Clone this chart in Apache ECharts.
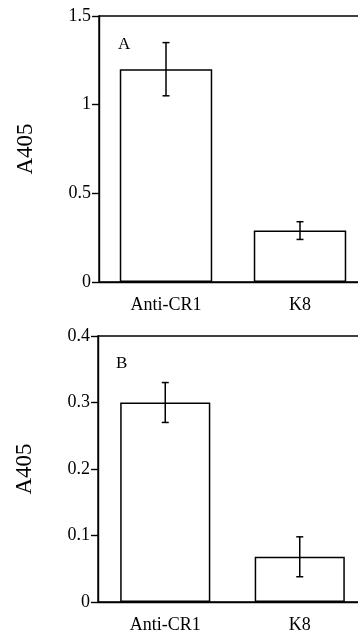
<!DOCTYPE html>
<html><head><meta charset="utf-8">
<script src="https://cdn.jsdelivr.net/npm/echarts@6/dist/echarts.min.js"></script>
<style>html,body{margin:0;padding:0;background:#fff}#c{width:358px;height:631px}</style>
</head><body><div id="c"></div>
<script>
const categories = ['Anti-CR1', 'K8'];
const meanA = [1.2, 0.29];
const errA = [0.15, 0.05];
const meanB = [0.3, 0.068];
const errB = [0.03, 0.03];
const panelLabels = ['A', 'B'];
const yNames = ['A405', 'A405'];

const FONT = 'Liberation Serif';
const lineStyle = {color: '#000', width: 1.4};

function errSeries(idx, mean, err) {
  return {
    type: 'custom', xAxisIndex: idx, yAxisIndex: idx, z: 5,
    data: mean.map((m, i) => [i, m - err[i], m + err[i]]),
    renderItem: function (params, api) {
      const lo = api.coord([api.value(0), api.value(1)]);
      const hi = api.coord([api.value(0), api.value(2)]);
      const hw = 3.5;
      const st = {stroke: '#000', lineWidth: 1.5, fill: null};
      return {type: 'group', children: [
        {type: 'line', shape: {x1: lo[0], y1: lo[1], x2: hi[0], y2: hi[1]}, style: st},
        {type: 'line', shape: {x1: lo[0] - hw, y1: lo[1], x2: lo[0] + hw, y2: lo[1]}, style: st},
        {type: 'line', shape: {x1: hi[0] - hw, y1: hi[1], x2: hi[0] + hw, y2: hi[1]}, style: st}
      ]};
    }
  };
}

function xAx(idx) {
  return {
    type: 'category', gridIndex: idx, data: categories,
    axisLine: {lineStyle: lineStyle},
    axisTick: {alignWithLabel: true, length: 6, lineStyle: lineStyle},
    axisLabel: {color: '#000', fontFamily: FONT, fontSize: 18, margin: 14}
  };
}
function yAx(idx, max, interval) {
  return {
    type: 'value', gridIndex: idx, min: 0, max: max, interval: interval,
    splitLine: {show: false},
    axisLine: {show: true, lineStyle: lineStyle},
    axisTick: {show: true, length: 7, lineStyle: lineStyle},
    axisLabel: {color: '#000', fontFamily: FONT, fontSize: 18, margin: 8},
    name: yNames[idx], nameLocation: 'middle', nameRotate: 90, nameGap: 62,
    nameTextStyle: {color: '#000', fontFamily: FONT, fontSize: 23}
  };
}

const chart = echarts.init(document.getElementById('c'));
chart.setOption({
  backgroundColor: '#fff',
  animation: false,
  grid: [
    {left: 99, top: 16, width: 268, height: 266, outerBoundsMode: 'none', containLabel: false, show: true, borderColor: '#000', borderWidth: 1.4, backgroundColor: 'transparent'},
    {left: 98, top: 336, width: 269, height: 266, outerBoundsMode: 'none', containLabel: false, show: true, borderColor: '#000', borderWidth: 1.4, backgroundColor: 'transparent'}
  ],
  xAxis: [xAx(0), xAx(1)],
  yAxis: [yAx(0, 1.5, 0.5), yAx(1, 0.4, 0.1)],
  graphic: [
    {type: 'text', left: 118, top: 36, style: {text: panelLabels[0], font: '17px "Liberation Serif"', fill: '#000'}},
    {type: 'text', left: 116, top: 355, style: {text: panelLabels[1], font: '17px "Liberation Serif"', fill: '#000'}}
  ],
  series: [
    {type: 'bar', xAxisIndex: 0, yAxisIndex: 0, data: meanA, barWidth: '69%',
      itemStyle: {color: '#fff', borderColor: '#000', borderWidth: 1.5}},
    errSeries(0, meanA, errA),
    {type: 'bar', xAxisIndex: 1, yAxisIndex: 1, data: meanB, barWidth: '67%',
      itemStyle: {color: '#fff', borderColor: '#000', borderWidth: 1.5}},
    errSeries(1, meanB, errB)
  ]
});
</script></body></html>
